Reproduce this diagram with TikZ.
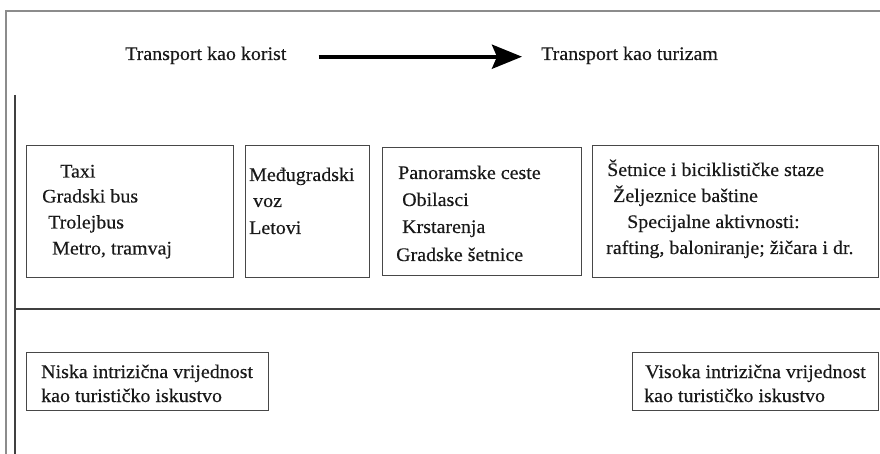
\documentclass[tikz,border=0pt]{standalone}
\usepackage{fontspec}
\setmainfont{Liberation Serif}[FakeStretch=1.04,FakeBold=0.3]
\usetikzlibrary{arrows.meta}
\begin{document}
\begin{tikzpicture}[x=1pt,y=-1pt,
  frameline/.style={draw=black!45, line width=1.8pt},
  rule/.style={draw=black!75, line width=1.5pt},
  box/.style={draw=black!72, line width=1.4pt, inner sep=0pt, anchor=north west},
  txt/.style={inner sep=0pt, anchor=base west, text=black!90,
              font=\fontsize{19.2}{23}\selectfont},
  bigarrow/.style={line width=4pt, -{Stealth[length=30pt,width=24pt,inset=5pt]}}
]
\useasboundingbox (0,0) rectangle (880,454);
\fill[white] (0,0) rectangle (880,454);

% page frame and dividing rules
\draw[frameline] (880,11) -- (6,11) -- (6,454);
\draw[rule] (15,95) -- (15,454);
\draw[rule] (15,309) -- (880,309);

% heading: utility -> tourism
\node[txt] (src) at (125,60) {Transport kao korist};
\node[txt] (dst) at (541,60) {Transport kao turizam};
\draw[bigarrow] ([xshift=32pt,yshift=1pt]src.mid east) -- ([xshift=-19pt,yshift=1pt]dst.mid west);

% category boxes
\node[box, minimum width=207pt, minimum height=132pt] (b1) at (26,145) {};
\node[box, minimum width=124pt, minimum height=132pt] (b2) at (245,145) {};
\node[box, minimum width=199pt, minimum height=128pt] (b3) at (382,147) {};
\node[box, minimum width=286pt, minimum height=132pt] (b4) at (592,145) {};

\node[txt] (b1l1) at (60,177.5) {Taxi};
\node[txt] (b1l2) at (42,202.5) {Gradski bus};
\node[txt] (b1l3) at (48,228.5) {Trolejbus};
\node[txt] (b1l4) at (52,254.5) {Metro, tramvaj};

\node[txt] (b2l1) at (249,181) {Međugradski};
\node[txt] (b2l2) at (253,207) {voz};
\node[txt] (b2l3) at (249,234) {Letovi};

\node[txt] (b3l1) at (398,179) {Panoramske ceste};
\node[txt] (b3l2) at (402,206) {Obilasci};
\node[txt] (b3l3) at (402,233) {Krstarenja};
\node[txt] (b3l4) at (396,261) {Gradske šetnice};

\node[txt] (b4l1) at (607,176) {Šetnice i biciklističke staze};
\node[txt] (b4l2) at (613,202) {Željeznice baštine};
\node[txt] (b4l3) at (627,228) {Specijalne aktivnosti:};
\node[txt] (b4l4) at (606,254) {rafting, baloniranje; žičara i dr.};

% value boxes
\node[box, minimum width=242pt, minimum height=58pt] (low) at (26,352) {};
\node[box, minimum width=246pt, minimum height=58pt] (high) at (632,352) {};

\node[txt] (lowl1) at (41,378) {Niska intrizična vrijednost};
\node[txt] (lowl2) at (41,402) {kao turističko iskustvo};
\node[txt] (highl1) at (645,378) {Visoka intrizična vrijednost};
\node[txt] (highl2) at (644,402) {kao turističko iskustvo};
\end{tikzpicture}
\end{document}
